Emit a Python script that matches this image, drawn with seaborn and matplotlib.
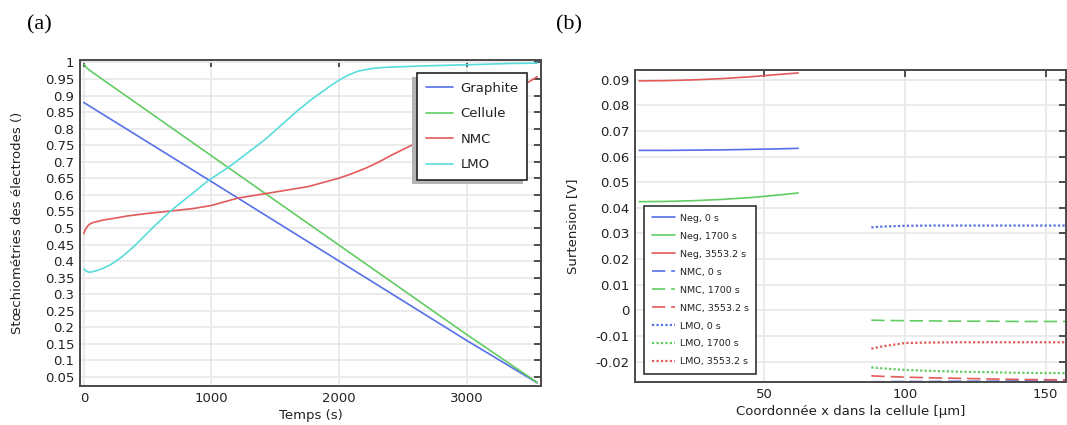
import numpy as np
import pandas as pd
import matplotlib
matplotlib.use("Agg")
import matplotlib.pyplot as plt
from matplotlib.patches import Rectangle
from matplotlib.ticker import FuncFormatter
import seaborn as sns

# ---- panel (a): stoechiometries vs time ----
t_graphite = [0, 1000, 2000, 3000, 3553]
graphite = [0.879, 0.640, 0.400, 0.160, 0.032]

t_cellule = [0, 20, 50, 1000, 2000, 3000, 3553]
cellule = [0.995, 0.985, 0.975, 0.718, 0.448, 0.178, 0.033]

t_nmc = [0, 10, 30, 47, 70, 100, 153, 250, 337, 500, 679, 863, 1000, 1205, 1442,
         1758, 1995, 2100, 2205, 2310, 2416, 2600, 2800, 3000, 3200, 3400, 3553]
nmc = [0.483, 0.494, 0.506, 0.512, 0.516, 0.519, 0.524, 0.530, 0.536, 0.544,
       0.551, 0.559, 0.568, 0.590, 0.605, 0.625, 0.650, 0.664, 0.680, 0.699,
       0.721, 0.756, 0.797, 0.838, 0.880, 0.921, 0.957]

t_lmo = [0, 20, 47, 100, 150, 205, 290, 390, 548, 679, 837, 982, 1140, 1416,
         1679, 1800, 1942, 2010, 2073, 2150, 2258, 2350, 2468, 2700, 2995, 3336, 3553]
lmo = [0.376, 0.369, 0.366, 0.371, 0.378, 0.388, 0.410, 0.443, 0.504, 0.551,
       0.600, 0.645, 0.685, 0.766, 0.856, 0.893, 0.932, 0.949, 0.962, 0.974,
       0.982, 0.985, 0.987, 0.990, 0.993, 0.997, 0.998]

# ---- panel (b): overpotential along the cell ----
x_neg = [5.5, 15, 25, 35, 45, 55, 62]
neg_0 = [0.0624, 0.0624, 0.0625, 0.0626, 0.0628, 0.0630, 0.0632]
neg_1700 = [0.0424, 0.0425, 0.0428, 0.0433, 0.0440, 0.0450, 0.0458]
neg_3553 = [0.0895, 0.0896, 0.0899, 0.0904, 0.0911, 0.0920, 0.0926]

x_pos = [88, 92, 100, 110, 120, 130, 140, 150, 160]
nmc_0 = [-0.0278, -0.0278, -0.0277, -0.0277, -0.0276, -0.0276, -0.0275, -0.0275, -0.0275]
nmc_1700 = [-0.0038, -0.0039, -0.0040, -0.0041, -0.0042, -0.0042, -0.0043, -0.0043, -0.0043]
nmc_3553 = [-0.0255, -0.0257, -0.0260, -0.0263, -0.0265, -0.0267, -0.0269, -0.0270, -0.0271]
lmo_0 = [0.0324, 0.0327, 0.0330, 0.0331, 0.0331, 0.0331, 0.0331, 0.0331, 0.0331]
lmo_1700 = [-0.0222, -0.0226, -0.0232, -0.0236, -0.0239, -0.0241, -0.0243, -0.0244, -0.0245]
lmo_3553 = [-0.0149, -0.0140, -0.0127, -0.0125, -0.0124, -0.0124, -0.0124, -0.0124, -0.0124]

BLUE = '#5670e8'
GREEN = '#62cc62'
RED = '#e25a5a'
CYAN = '#58dcdc'

sns.set_theme(style="whitegrid")
plt.rcParams['font.family'] = ['DejaVu Sans']
plt.rcParams['axes.unicode_minus'] = False

W, H = 1067, 425
fig = plt.figure(figsize=(W / 100, H / 100), dpi=100)
ax_a = fig.add_axes([80 / W, 1 - 386 / H, (541 - 80) / W, (386 - 60) / H])
ax_b = fig.add_axes([635 / W, 1 - 382 / H, (1066 - 635) / W, (382 - 69.6) / H])


def style_axes(ax):
    ax.set_facecolor('white')
    ax.grid(True, color='#e9e9e9', linewidth=1.3)
    for s in ax.spines.values():
        s.set_color('#4a4a4a')
        s.set_linewidth(1.4)
    ax.tick_params(direction='in', length=5, width=1.2, color='#333333',
                   top=True, right=True, labelsize=9.5, labelcolor='#222222', pad=4)
    ax.yaxis.set_major_formatter(FuncFormatter(lambda v, p: f"{v:g}"))


lw = 1.2
sns.lineplot(x=t_graphite, y=graphite, ax=ax_a, color=BLUE, lw=lw, label='Graphite')
sns.lineplot(x=t_cellule, y=cellule, ax=ax_a, color=GREEN, lw=lw, label='Cellule')
sns.lineplot(x=t_nmc, y=nmc, ax=ax_a, color=RED, lw=lw, label='NMC')
sns.lineplot(x=t_lmo, y=lmo, ax=ax_a, color=CYAN, lw=lw, label='LMO')

style_axes(ax_a)
ax_a.set_xlim(-30, 3582)
ax_a.set_ylim(0.0225, 1.0075)
ax_a.set_xticks([0, 1000, 2000, 3000])
ax_a.set_yticks(np.arange(0.05, 1.001, 0.05))
ax_a.set_xlabel('Temps (s)', fontsize=9.5, color='#222222', labelpad=3)
ax_a.set_ylabel('Stœchiométries des électrodes ()', fontsize=9.5, color='#222222', labelpad=15)

leg_a = ax_a.legend(loc='upper left', bbox_to_anchor=(0.731, 0.960), borderaxespad=0,
                    fontsize=9.5, fancybox=False, framealpha=1, edgecolor='#222222',
                    handlelength=2.1, handletextpad=0.55, labelspacing=0.95, borderpad=0.65)
leg_a.get_frame().set_linewidth(1.2)
for t in leg_a.get_texts():
    t.set_color('#222222')

dashed = (0, (8, 3.5))
dotted = (0, (1, 1))
lw_dot = 1.6
sns.lineplot(x=x_neg, y=neg_0, ax=ax_b, color=BLUE, lw=lw, label='Neg, 0 s')
sns.lineplot(x=x_neg, y=neg_1700, ax=ax_b, color=GREEN, lw=lw, label='Neg, 1700 s')
sns.lineplot(x=x_neg, y=neg_3553, ax=ax_b, color=RED, lw=lw, label='Neg, 3553.2 s')
sns.lineplot(x=x_pos, y=nmc_0, ax=ax_b, color=BLUE, lw=lw, linestyle=dashed, label='NMC, 0 s')
sns.lineplot(x=x_pos, y=nmc_1700, ax=ax_b, color=GREEN, lw=lw, linestyle=dashed, label='NMC, 1700 s')
sns.lineplot(x=x_pos, y=nmc_3553, ax=ax_b, color=RED, lw=lw, linestyle=dashed, label='NMC, 3553.2 s')
sns.lineplot(x=x_pos, y=lmo_0, ax=ax_b, color=BLUE, lw=lw_dot, linestyle=dotted, label='LMO, 0 s')
sns.lineplot(x=x_pos, y=lmo_1700, ax=ax_b, color=GREEN, lw=lw_dot, linestyle=dotted, label='LMO, 1700 s')
sns.lineplot(x=x_pos, y=lmo_3553, ax=ax_b, color=RED, lw=lw_dot, linestyle=dotted, label='LMO, 3553.2 s')

style_axes(ax_b)
ax_b.set_xlim(4.0, 157.2)
ax_b.set_ylim(-0.0279, 0.0939)
ax_b.set_xticks([50, 100, 150])
ax_b.set_yticks(np.round(np.arange(-0.02, 0.0901, 0.01), 2))
ax_b.set_xlabel('Coordonnée x dans la cellule [µm]', fontsize=9.5, color='#222222', labelpad=3)
ax_b.set_ylabel('Surtension [V]', fontsize=9.5, color='#222222', labelpad=12)

leg_b = ax_b.legend(loc='upper left', bbox_to_anchor=(0.021, 0.563), borderaxespad=0,
                    fontsize=6.8, fancybox=False, framealpha=1, edgecolor='#333333',
                    handlelength=2.5, handletextpad=0.5, labelspacing=0.95, borderpad=0.8)
leg_b.get_frame().set_linewidth(1.2)
for t in leg_b.get_texts():
    t.set_color('#222222')

# drop shadow of legend (a), offset down-left
fig.canvas.draw()
bb = leg_a.get_frame().get_window_extent().transformed(ax_a.transAxes.inverted())
dx = 4.5 / ((541 - 80))
dy = 4.0 / ((386 - 60))
ax_a.add_patch(Rectangle((bb.x0 - dx, bb.y0 - dy), bb.width, bb.height,
                         transform=ax_a.transAxes, facecolor='#b4b4b4', edgecolor='none',
                         zorder=4.9, clip_on=False))

fig.text(27 / W, 1 - 25 / H, '(a)', family=['Liberation Serif'], fontsize=16,
         ha='left', va='center', color='black')
fig.text(556 / W, 1 - 25 / H, '(b)', family=['Liberation Serif'], fontsize=16,
         ha='left', va='center', color='black')

fig.savefig('out.png', dpi=100, facecolor='white')
